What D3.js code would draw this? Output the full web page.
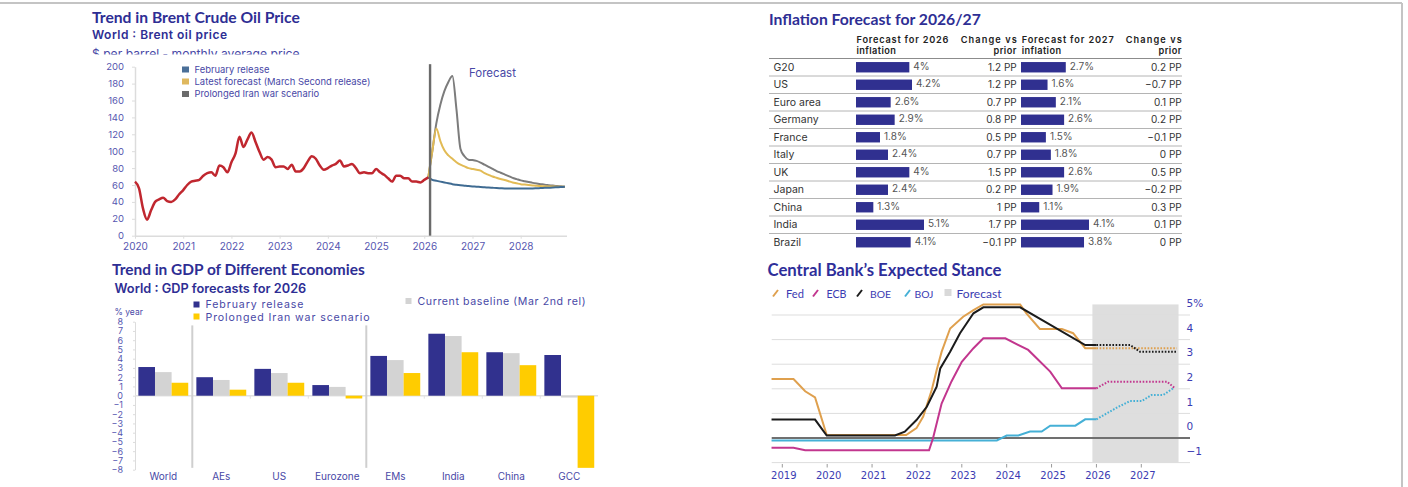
<!DOCTYPE html>
<html>
<head>
<meta charset="utf-8">
<script src="https://cdn.jsdelivr.net/npm/d3@7"></script>
<style>
    body { margin: 0; background: #fff; }
    svg { display: block; }
    .title { font-family: Lato, "Open Sans", sans-serif; font-weight: 700; fill: #2e2e94; }
    .sub { font-family: Inter, sans-serif; font-weight: 600; fill: #2e2e94; }
    .lab { font-family: Inter, sans-serif; fill: #4848a6; }
    .axis text { font-family: Inter, sans-serif; fill: #5656b0; }
    .axis path, .axis line { stroke: #dcdcdc; }
    .tbl { font-family: Inter, sans-serif; fill: #333; }
    .cb text { font-family: "DejaVu Sans", sans-serif; fill: #3b3bb2; }
</style>
</head>
<body>
<svg id="chart" width="1408" height="487"></svg>
<script>
    // Brent oil, monthly average from Jan 2020 to Feb 2026
    var oilHistory = [
        64, 56, 32, 19, 30, 40, 43, 45, 41, 40, 43, 49,
        54, 60, 64, 65, 66, 71, 74, 75, 71, 83, 81, 75,
        87, 97, 117, 105, 114, 122, 111, 99, 90, 93, 90, 81,
        82, 82, 79, 84, 76, 76, 80, 88, 94, 91, 83, 78,
        80, 83, 85, 89, 82, 83, 85, 80, 74, 75, 74, 74,
        79, 75, 72, 68, 64, 71, 71, 68, 68, 64, 64, 63,
        66, 69
    ];
    // forecasts, monthly from Feb 2026 to Dec 2028
    var oilFebRelease = [
        69, 66, 65, 64, 63, 62, 61, 60.3, 59.7, 59.2, 58.7,
        58.3, 58, 57.6, 57.3, 57, 56.7, 56.4, 56.2, 56, 56, 56, 56,
        56, 56, 56, 56, 56.2, 56.4, 56.6, 56.8, 57, 57.3, 57.6, 58
    ];
    var oilLatest = [
        69, 100, 127, 112, 101, 95, 91, 87, 84, 82, 80,
        79, 78, 77, 74, 72, 70, 68.5, 67, 66, 64.5, 63, 62,
        61, 60.5, 60, 59.5, 59, 58.8, 58.5, 58.3, 58.2, 58, 58, 58
    ];
    var oilIranWar = [
        69, 100, 133, 155, 171, 182, 189, 150, 103, 94, 90,
        89.5, 88.5, 86.5, 84, 81.5, 79, 76.5, 74.5, 72.5, 70.5, 68.5, 67,
        65.5, 64.5, 63.5, 62.5, 61.7, 61, 60.3, 59.8, 59.3, 58.8, 58.4, 58
    ];
    var oilYearTicks = [2020, 2021, 2022, 2023, 2024, 2025, 2026, 2027, 2028];
    var oilValueTicks = [0, 20, 40, 60, 80, 100, 120, 140, 160, 180, 200];
    var oilLegend = ["February release", "Latest forecast (March Second release)", "Prolonged Iran war scenario"];

    // GDP forecasts for 2026
    var gdpCategories = ["World", "AEs", "US", "Eurozone", "EMs", "India", "China", "GCC"];
    var gdpFebruary = [3.1, 2.0, 2.9, 1.15, 4.3, 6.7, 4.7, 4.4];
    var gdpBaseline = [2.55, 1.7, 2.45, 0.95, 3.85, 6.45, 4.6, -0.2];
    var gdpIranWar = [1.4, 0.65, 1.4, -0.3, 2.45, 4.7, 3.3, -7.8];
    var gdpTicks = [-8, -7, -6, -5, -4, -3, -2, -1, 0, 1, 2, 3, 4, 5, 6, 7, 8];

    // Inflation table
    var inflCountries = ["G20", "US", "Euro area", "Germany", "France", "Italy", "UK", "Japan", "China", "India", "Brazil"];
    var infl2026 = [4, 4.2, 2.6, 2.9, 1.8, 2.4, 4, 2.4, 1.3, 5.1, 4.1];
    var change2026 = [1.2, 1.2, 0.7, 0.8, 0.5, 0.7, 1.5, 0.2, 1, 1.7, -0.1];
    var infl2027 = [2.7, 1.6, 2.1, 2.6, 1.5, 1.8, 2.6, 1.9, 1.1, 4.1, 3.8];
    var change2027 = [0.2, -0.7, 0.1, 0.2, -0.1, 0, 0.5, -0.2, 0.3, 0.1, 0];

    // Central bank policy rates, [year, rate]
    var fedActual = [[2018.76, 2.4], [2019.25, 2.4], [2019.51, 1.9], [2019.73, 1.65], [2019.99, 0.12], [2021.76, 0.12],
        [2021.99, 0.4], [2022.14, 0.87], [2022.33, 1.95], [2022.44, 2.76], [2022.55, 3.5], [2022.74, 4.45],
        [2023.03, 4.93], [2023.26, 5.2], [2023.48, 5.43], [2024.3, 5.43], [2024.44, 5.07], [2024.74, 4.43],
        [2025.23, 4.43], [2025.48, 4.26], [2025.75, 3.65], [2026.0, 3.65]];
    var fedForecast = [[2026.0, 3.65], [2027.79, 3.65]];
    var ecbActual = [[2018.76, -0.4], [2019.25, -0.4], [2019.51, -0.5], [2022.27, -0.5], [2022.36, 0], [2022.55, 1.4],
        [2022.77, 2.3], [2023.0, 3.1], [2023.26, 3.65], [2023.48, 4.05], [2023.97, 4.05], [2024.48, 3.58],
        [2024.97, 2.7], [2025.23, 2.02], [2026.0, 2.02]];
    var ecbForecast = [[2026.0, 2.02], [2026.26, 2.29], [2027.57, 2.29], [2027.75, 2.02]];
    var boeActual = [[2018.76, 0.75], [2019.73, 0.75], [2019.99, 0.1], [2021.51, 0.1], [2021.73, 0.26], [2021.99, 0.73],
        [2022.22, 1.27], [2022.44, 2.09], [2022.52, 2.83], [2022.74, 3.51], [2022.96, 4.26], [2023.26, 5.07],
        [2023.48, 5.31], [2024.3, 5.31], [2025.75, 3.78], [2026.0, 3.78]];
    var boeForecast = [[2026.0, 3.78], [2026.75, 3.78], [2026.97, 3.51], [2027.79, 3.51]];
    var bojActual = [[2018.76, -0.1], [2023.78, -0.1], [2024.0, 0.1], [2024.26, 0.1], [2024.52, 0.26], [2024.78, 0.26],
        [2024.97, 0.5], [2025.53, 0.5], [2025.75, 0.76], [2026.0, 0.76]];
    var bojForecast = [[2026.0, 0.76], [2026.23, 1.0], [2026.49, 1.27], [2026.75, 1.5], [2027.01, 1.5],
        [2027.23, 1.75], [2027.49, 1.75], [2027.71, 2.02]];
    var cbForecastRange = [2025.91, 2027.83];
    var cbYearTicks = [2019, 2020, 2021, 2022, 2023, 2024, 2025, 2026, 2027];
    var cbRateTicks = [5, 4, 3, 2, 1, 0, -1];
    var cbGridTicks = [5, 4, 3, 2, 1, -1];
    var cbNames = ["Fed", "ECB", "BOE", "BOJ"];

    var svg = d3.select("#chart");

    // shrink or grow a text's font so it spans a given width
    var fitWidth = function(sel, w) {
        sel.each(function() {
            var len = this.getComputedTextLength();
            var fs = parseFloat(d3.select(this).style("font-size"));
            d3.select(this).style("font-size", (fs * w / len) + "px");
        });
        return sel;
    };
    var minus = function(v) { return String(v).replace("-", "\u2212"); };

    // Frame
    svg.append("line").attr("x1", 0).attr("x2", 1402).attr("y1", 3).attr("y2", 3)
        .attr("stroke", "#c4c4c4").attr("stroke-width", 2);
    svg.append("line").attr("x1", 1402).attr("x2", 1402).attr("y1", 3).attr("y2", 487)
        .attr("stroke", "#c4c4c4").attr("stroke-width", 2);

    // ---------------- Brent oil ----------------
    var oil = svg.append("g");
    fitWidth(oil.append("text").attr("class", "title").attr("x", 92).attr("y", 22.5)
        .style("font-size", "15px").text("Trend in Brent Crude Oil Price"), 208);
    oil.append("text").attr("class", "sub").attr("x", 92).attr("y", 38.5)
        .attr("textLength", 135).attr("lengthAdjust", "spacing")
        .style("font-size", "12px").text("World : Brent oil price");
    oil.append("clipPath").attr("id", "unitClip").append("rect")
        .attr("x", 80).attr("y", 41.5).attr("width", 300).attr("height", 13);
    fitWidth(oil.append("text").attr("class", "lab").attr("x", 92).attr("y", 57.5)
        .attr("clip-path", "url(#unitClip)").style("font-size", "12px")
        .text("$ per barrel - monthly average price"), 208);

    var oilX = d3.scaleLinear().domain([2020, 2028.95]).range([135, 566.5]);
    var oilY = d3.scaleLinear().domain([0, 200]).range([235.7, 66.7]);

    var oilYAxis = oil.append("g").attr("class", "axis")
        .attr("transform", "translate(135,0)")
        .call(d3.axisLeft(oilY).tickValues(oilValueTicks).tickSize(3).tickSizeOuter(0));
    oilYAxis.selectAll("text").style("font-size", "9.5px").attr("x", -11);
    var oilXAxis = oil.append("g").attr("class", "axis")
        .attr("transform", "translate(0,235.7)")
        .call(d3.axisBottom(oilX).tickValues(oilYearTicks).tickFormat(d3.format("d")).tickSize(3).tickSizeOuter(0));
    oilXAxis.selectAll("text").style("font-size", "10px").attr("y", 7);
    oil.selectAll(".axis path").attr("stroke-width", 1.5);

    var oilLine = d3.line()
        .curve(d3.curveMonotoneX)
        .x(function(d) { return oilX(d.t); })
        .y(function(d) { return oilY(d.v); });
    var histPts = oilHistory.map(function(v, i) { return { t: 2020 + i / 12, v: v }; });
    var fcPts = function(arr) { return arr.map(function(v, i) { return { t: 2026 + (i + 1) / 12, v: v }; }); };

    var oilSeries = [
        { data: oilIranWar, color: "#7c7c7c" },
        { data: oilLatest, color: "#e2bb55" },
        { data: oilFebRelease, color: "#3f6b92" }
    ];
    oilSeries.forEach(function(s) {
        oil.append("path").datum(fcPts(s.data))
            .attr("fill", "none").attr("stroke", s.color).attr("stroke-width", 2)
            .attr("d", oilLine);
    });
    oil.append("path").datum(histPts)
        .attr("fill", "none").attr("stroke", "#c0272f").attr("stroke-width", 2.5)
        .attr("d", oilLine);

    oil.append("line")
        .attr("x1", oilX(2026.12)).attr("x2", oilX(2026.12))
        .attr("y1", oilY(203)).attr("y2", oilY(0))
        .attr("stroke", "#6a6a6a").attr("stroke-width", 2.4);
    fitWidth(oil.append("text").attr("class", "lab").attr("x", 469).attr("y", 77)
        .style("font-size", "11px").text("Forecast"), 47);

    var oilLegColors = ["#4a6f98", "#dfb85e", "#6b6b6b"];
    var oilLegY = [69.5, 81.5, 94];
    oilLegend.forEach(function(name, i) {
        oil.append("rect").attr("x", 182).attr("y", oilLegY[i] - 3).attr("width", 7).attr("height", 6)
            .attr("fill", oilLegColors[i]);
    });
    var oilLegWidths = [75, 176, 125];
    oilLegend.forEach(function(name, i) {
        fitWidth(oil.append("text").attr("class", "lab").attr("x", 194.5).attr("y", oilLegY[i] + 3)
            .style("font-size", "10px").text(name), oilLegWidths[i]);
    });

    // ---------------- GDP ----------------
    var gdp = svg.append("g");
    fitWidth(gdp.append("text").attr("class", "title").attr("x", 112).attr("y", 275)
        .style("font-size", "15px").text("Trend in GDP of Different Economies"), 253);
    fitWidth(gdp.append("text").attr("class", "sub").attr("x", 114.5).attr("y", 292.5)
        .style("font-size", "12.5px").text("World : GDP forecasts for 2026"), 192);
    gdp.append("text").attr("class", "lab").attr("x", 114.5).attr("y", 315)
        .style("font-size", "8.5px").text("% year");

    var gdpKeys = ["feb", "base", "war"];
    var gdpColors = { feb: "#31318e", base: "#d3d3d3", war: "#ffcc00" };
    var gdpRows = gdpCategories.map(function(c, i) {
        return { name: c, feb: gdpFebruary[i], base: gdpBaseline[i], war: gdpIranWar[i] };
    });

    var gdpX = d3.scaleBand().domain(gdpCategories).range([134.3, 598.3]).paddingInner(0.14).paddingOuter(0.07);
    var gdpSub = d3.scaleBand().domain(gdpKeys).range([0, gdpX.bandwidth()]);
    var gdpY = d3.scaleLinear().domain([-8, 8]).range([469.7, 321.7]);

    var gdpYAxis = gdp.append("g").attr("class", "axis")
        .attr("transform", "translate(135,0)")
        .call(d3.axisLeft(gdpY).tickValues(gdpTicks).tickSize(2).tickSizeOuter(0));
    gdpYAxis.selectAll("text").style("font-size", "9px").attr("x", -12);

    // zero line with category ticks
    gdp.append("line").attr("x1", 135).attr("x2", 598).attr("y1", gdpY(0)).attr("y2", gdpY(0))
        .attr("stroke", "#e2e2e2").attr("stroke-width", 1.5);
    gdp.selectAll(".cat-tick").data(gdpCategories.slice(1))
        .enter().append("line")
        .attr("x1", function(d) { return gdpX(d) - gdpX.step() * 0.07; })
        .attr("x2", function(d) { return gdpX(d) - gdpX.step() * 0.07; })
        .attr("y1", gdpY(0)).attr("y2", gdpY(0) + 3)
        .attr("stroke", "#e2e2e2");

    // group separators
    ["AEs", "EMs"].forEach(function(c) {
        var x = gdpX(c) - gdpX.step() * 0.07;
        gdp.append("line").attr("x1", x).attr("x2", x).attr("y1", gdpY(7.6)).attr("y2", gdpY(-7.8))
            .attr("stroke", "#cfcfcf").attr("stroke-width", 2);
    });

    var groups = gdp.selectAll(".gdp-group").data(gdpRows)
        .enter().append("g")
        .attr("transform", function(d) { return "translate(" + gdpX(d.name) + ",0)"; });
    groups.selectAll("rect")
        .data(function(d) { return gdpKeys.map(function(k) { return { key: k, value: d[k] }; }); })
        .enter().append("rect")
        .attr("x", function(d) { return gdpSub(d.key); })
        .attr("width", gdpSub.bandwidth())
        .attr("y", function(d) { return gdpY(Math.max(0, d.value)); })
        .attr("height", function(d) { return Math.abs(gdpY(d.value) - gdpY(0)); })
        .attr("fill", function(d) { return gdpColors[d.key]; });

    gdp.selectAll(".cat-label").data(gdpCategories)
        .enter().append("text").attr("class", "lab")
        .attr("x", function(d) { return gdpX(d) + gdpX.bandwidth() / 2; })
        .attr("y", 480)
        .attr("text-anchor", "middle")
        .style("font-size", "10px")
        .text(function(d) { return d; });

    // legend
    var gdpLegend = [
        { key: "feb", name: "February release", x: 193.5, y: 304.5, ty: 308, w: 98 },
        { key: "war", name: "Prolonged Iran war scenario", x: 193.5, y: 316.5, ty: 321, w: 164 },
        { key: "base", name: "Current baseline (Mar 2nd rel)", x: 405.5, y: 301, ty: 305, w: 168 }
    ];
    gdpLegend.forEach(function(l) {
        gdp.append("rect").attr("x", l.x).attr("y", l.y - 3).attr("width", 6).attr("height", 6)
            .attr("fill", gdpColors[l.key]);
        gdp.append("text").attr("class", "lab").attr("x", l.x + 12).attr("y", l.ty)
            .attr("textLength", l.w).attr("lengthAdjust", "spacing")
            .style("font-size", "10.6px").text(l.name);
    });

    // ---------------- Inflation table ----------------
    var tbl = svg.append("g");
    fitWidth(tbl.append("text").attr("class", "title").attr("x", 769).attr("y", 25)
        .style("font-size", "15px").text("Inflation Forecast for 2026/27"), 212);

    // header: keep the glyphs small and stretch the spacing to the column width
    var headers = [
        { l1: "Forecast for 2026", l2: "inflation", x: 856.5, anchor: "start", w: 92 },
        { l1: "Change vs", l2: "prior", x: 1016.7, anchor: "end", w: 56 },
        { l1: "Forecast for 2027", l2: "inflation", x: 1021.7, anchor: "start", w: 92 },
        { l1: "Change vs", l2: "prior", x: 1181.7, anchor: "end", w: 56 }
    ];
    headers.forEach(function(h) {
        tbl.append("text").attr("class", "tbl").attr("text-anchor", h.anchor)
            .attr("x", h.x).attr("y", 42.5)
            .attr("textLength", h.w).attr("lengthAdjust", "spacing")
            .style("font-size", "9.2px").style("font-weight", 600).style("fill", "#222")
            .text(h.l1);
        tbl.append("text").attr("class", "tbl").attr("text-anchor", h.anchor)
            .attr("x", h.x).attr("y", 54.3)
            .style("font-size", "9.2px").style("font-weight", 600).style("fill", "#222")
            .style("letter-spacing", "0.4px")
            .text(h.l2);
    });

    var rowY = d3.scaleBand().domain(inflCountries).range([58, 250.5]);
    var bar26 = d3.scaleLinear().domain([0, d3.max(infl2026)]).range([0, 68]);
    var bar27 = d3.scaleLinear().domain([0, d3.max(infl2027)]).range([0, 68]);

    tbl.selectAll(".row-line").data(inflCountries)
        .enter().append("line")
        .attr("x1", 769).attr("x2", 1182)
        .attr("y1", function(d) { return rowY(d) + 0.5; })
        .attr("y2", function(d) { return rowY(d) + 0.5; })
        .attr("stroke", function(d, i) { return i === 0 ? "#8c8c8c" : "#b4b4b4"; })
        .attr("stroke-width", 1);

    inflCountries.forEach(function(c, i) {
        var cy = rowY(c) + rowY.bandwidth() / 2 + 0.5;
        tbl.append("text").attr("class", "tbl").attr("x", 773.5).attr("y", cy).attr("dy", "0.35em")
            .style("font-size", "10.5px").text(c);

        tbl.append("rect").attr("x", 856).attr("y", cy - 5.2).attr("width", bar26(infl2026[i])).attr("height", 10.4)
            .attr("fill", "#303090");
        tbl.append("text").attr("class", "tbl").attr("x", 856 + bar26(infl2026[i]) + 4).attr("y", cy - 1).attr("dy", "0.35em")
            .style("font-size", "10px").style("fill", "#555").text(infl2026[i] + "%");
        tbl.append("text").attr("class", "tbl").attr("x", 1016.7).attr("y", cy).attr("dy", "0.35em")
            .attr("text-anchor", "end").style("font-size", "10px").text(minus(change2026[i]) + " PP");

        tbl.append("rect").attr("x", 1021).attr("y", cy - 5.2).attr("width", bar27(infl2027[i])).attr("height", 10.4)
            .attr("fill", "#303090");
        tbl.append("text").attr("class", "tbl").attr("x", 1021 + bar27(infl2027[i]) + 4).attr("y", cy - 1).attr("dy", "0.35em")
            .style("font-size", "10px").style("fill", "#555").text(infl2027[i] + "%");
        tbl.append("text").attr("class", "tbl").attr("x", 1181.7).attr("y", cy).attr("dy", "0.35em")
            .attr("text-anchor", "end").style("font-size", "10px").text(minus(change2027[i]) + " PP");
    });

    // ---------------- Central banks ----------------
    var cb = svg.append("g").attr("class", "cb");
    fitWidth(cb.append("text").attr("class", "title").attr("x", 767.5).attr("y", 275.5)
        .style("font-size", "15px").style("font-family", "Lato, sans-serif").style("fill", "#2e2e9a")
        .text("Central Bank\u2019s Expected Stance"), 234);

    var cbX = d3.scaleLinear().domain([2019, 2027]).range([782.3, 1141.3]);
    var cbY = d3.scaleLinear().domain([-1, 5]).range([462.6, 315]);
    var cbColors = { Fed: "#dfa04e", ECB: "#c2368e", BOE: "#1b1b1b", BOJ: "#45b0d6" };

    cb.append("rect")
        .attr("x", cbX(cbForecastRange[0])).attr("width", cbX(cbForecastRange[1]) - cbX(cbForecastRange[0]))
        .attr("y", cbY(5.43)).attr("height", cbY(-1) - cbY(5.43))
        .attr("fill", "#dedede");

    cb.selectAll(".grid").data(cbGridTicks)
        .enter().append("line")
        .attr("x1", 771.7).attr("x2", 1190)
        .attr("y1", function(d) { return cbY(d); })
        .attr("y2", function(d) { return cbY(d); })
        .attr("stroke", "#dddddd").attr("stroke-width", 1);
    cb.append("line").attr("x1", 771.7).attr("x2", 1190).attr("y1", cbY(0)).attr("y2", cbY(0))
        .attr("stroke", "#707070").attr("stroke-width", 2);

    var cbLine = d3.line()
        .x(function(d) { return cbX(d[0]); })
        .y(function(d) { return cbY(d[1]); });
    var cbSeries = [
        { name: "BOJ", actual: bojActual, forecast: bojForecast },
        { name: "ECB", actual: ecbActual, forecast: ecbForecast },
        { name: "Fed", actual: fedActual, forecast: fedForecast },
        { name: "BOE", actual: boeActual, forecast: boeForecast }
    ];
    cbSeries.forEach(function(s) {
        cb.append("path").datum(s.actual)
            .attr("fill", "none").attr("stroke", cbColors[s.name]).attr("stroke-width", 2)
            .attr("d", cbLine);
        cb.append("path").datum(s.forecast)
            .attr("fill", "none").attr("stroke", cbColors[s.name]).attr("stroke-width", 2)
            .attr("stroke-dasharray", "1.6,1.6")
            .attr("d", cbLine);
    });

    // year axis
    cb.selectAll(".year-tick").data(cbYearTicks)
        .enter().append("line")
        .attr("x1", function(d) { return cbX(d); })
        .attr("x2", function(d) { return cbX(d); })
        .attr("y1", 464).attr("y2", 467.5)
        .attr("stroke", "#9a9a9a");
    cb.selectAll(".year-label").data(cbYearTicks)
        .enter().append("text")
        .attr("x", function(d) { return cbX(d) + 1.5; })
        .attr("y", 479)
        .attr("text-anchor", "middle")
        .style("font-size", "10px")
        .text(function(d) { return d; });

    // rate labels sit half a step above their gridline
    cb.selectAll(".rate-label").data(cbRateTicks)
        .enter().append("text")
        .attr("x", 1186.5)
        .attr("y", function(d) { return cbY(d) - 11.5; })
        .attr("dy", "0.35em")
        .style("font-size", "10.5px")
        .text(function(d, i) { return i === 0 ? d + "%" : minus(d); });

    // legend
    var cbLegIcon = [773, 813, 857, 905];
    var cbLegText = [786, 826.5, 870, 914.5];
    var cbLegW = [18, 20, 21, 19];
    cbNames.forEach(function(n, i) {
        cb.append("line").attr("x1", cbLegIcon[i]).attr("x2", cbLegIcon[i] + 5).attr("y1", 296.5).attr("y2", 290)
            .attr("stroke", cbColors[n]).attr("stroke-width", 2);
        fitWidth(cb.append("text").attr("x", cbLegText[i]).attr("y", 297.5)
            .style("font-family", "Lato, sans-serif").style("font-size", "12px")
            .text(n), cbLegW[i]);
    });
    cb.append("rect").attr("x", 944.5).attr("y", 289).attr("width", 7).attr("height", 7).attr("fill", "#d9d9d9");
    fitWidth(cb.append("text").attr("x", 956.5).attr("y", 297.5)
        .style("font-family", "Lato, sans-serif").style("font-size", "12px")
        .text("Forecast"), 45);
</script>
</body>
</html>
